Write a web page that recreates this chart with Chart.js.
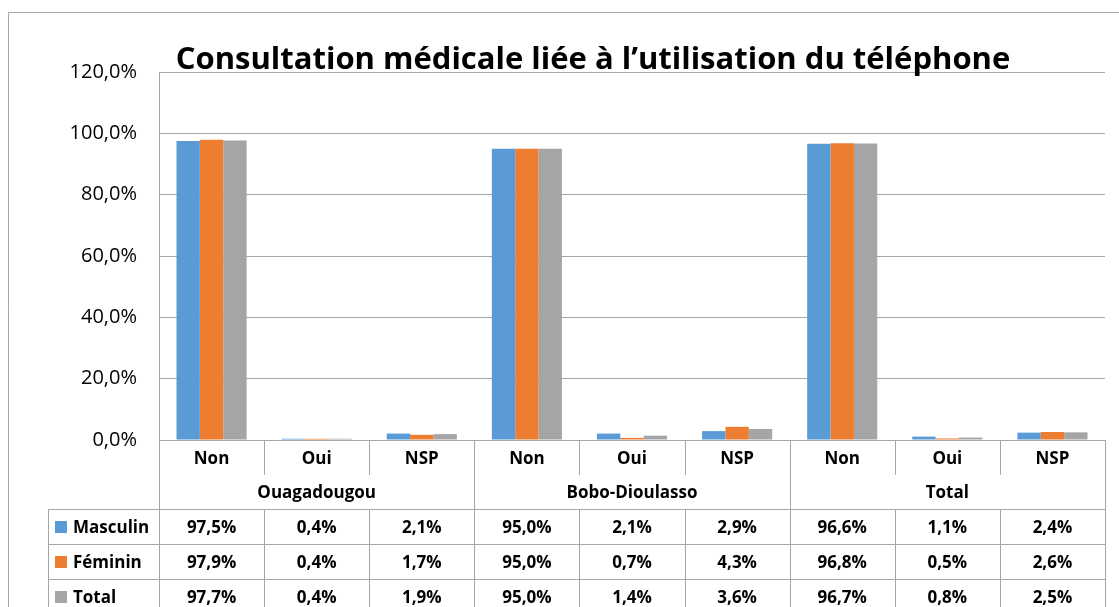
<!DOCTYPE html>
<html>
<head>
<meta charset="utf-8">
<script src="https://cdn.jsdelivr.net/npm/chart.js@4.4.1/dist/chart.umd.min.js"></script>
<style>
  html, body { margin: 0; padding: 0; background: #fff; }
  #wrap { width: 1119px; height: 607px; position: relative; }
</style>
</head>
<body>
<div id="wrap"><canvas id="chart" width="1119" height="607"></canvas></div>
<script>
const title = 'Consultation médicale liée à l’utilisation du téléphone';
const groups = ['Ouagadougou', 'Bobo-Dioulasso', 'Total'];
const categories = ['Non', 'Oui', 'NSP', 'Non', 'Oui', 'NSP', 'Non', 'Oui', 'NSP'];
const masculin = [97.5, 0.4, 2.1, 95.0, 2.1, 2.9, 96.6, 1.1, 2.4];
const feminin = [97.9, 0.4, 1.7, 95.0, 0.7, 4.3, 96.8, 0.5, 2.6];
const total = [97.7, 0.4, 1.9, 95.0, 1.4, 3.6, 96.7, 0.8, 2.5];
const seriesNames = ['Masculin', 'Féminin', 'Total'];
const colors = ['#5b9bd5', '#ed7d31', '#a5a5a5'];

const FONT = '"Open Sans", Lato, sans-serif';
const LINE = '#a6a6a6';

function fmt(v) {
    return v.toFixed(1).replace('.', ',') + '%';
}

// draws outer frame, title and the data table under the plot
const tablePlugin = {
    id: 'dataTable',
    afterDraw(chart) {
        const ctx = chart.ctx;
        const x = chart.scales.x;
        const area = chart.chartArea;
        const rowH = 35;
        const n = categories.length;
        const step = (area.right - area.left) / n;
        const edges = [];
        for (let i = 0; i <= n; i++) edges.push(area.left + step * i);
        const y0 = area.bottom;
        const yGroup = y0 + rowH;
        const yData = y0 + 2 * rowH - 1;
        const legLeft = 48;

        ctx.save();
        // outer frame
        ctx.strokeStyle = LINE;
        ctx.lineWidth = 1;
        ctx.beginPath();
        ctx.moveTo(8.5, chart.height);
        ctx.lineTo(8.5, 12.5);
        ctx.lineTo(chart.width, 12.5);
        ctx.stroke();

        // title, sized to the width it has in the original
        ctx.fillStyle = '#000';
        ctx.font = 'bold 30px ' + FONT;
        const tw = ctx.measureText(title).width;
        const size = Math.min(32, 30 * 834 / tw);
        ctx.font = 'bold ' + size.toFixed(1) + 'px ' + FONT;
        ctx.textAlign = 'center';
        ctx.textBaseline = 'alphabetic';
        ctx.fillText(title, 593, 69);

        // table lines
        ctx.strokeStyle = LINE;
        ctx.beginPath();
        ctx.moveTo(edges[0], y0 + 0.5);
        ctx.lineTo(edges[n], y0 + 0.5);
        edges.forEach(e => {
            ctx.moveTo(Math.round(e) + 0.5, y0);
            ctx.lineTo(Math.round(e) + 0.5, yGroup);
        });
        [0, 3, 6, 9].forEach(i => {
            ctx.moveTo(Math.round(edges[i]) + 0.5, yGroup);
            ctx.lineTo(Math.round(edges[i]) + 0.5, yData);
        });
        for (let r = 0; r <= 3; r++) {
            const yy = Math.round(yData + r * rowH) + 0.5;
            ctx.moveTo(legLeft, yy);
            ctx.lineTo(edges[n], yy);
        }
        [legLeft].concat(edges).forEach(e => {
            ctx.moveTo(Math.round(e) + 0.5, yData);
            ctx.lineTo(Math.round(e) + 0.5, yData + 3 * rowH);
        });
        ctx.stroke();

        // text
        ctx.fillStyle = '#000';
        ctx.font = 'bold 17px ' + FONT;
        ctx.textAlign = 'center';
        ctx.textBaseline = 'middle';
        categories.forEach((c, i) => {
            ctx.fillText(c, x.getPixelForValue(i), y0 + rowH / 2 + 1.5);
        });
        groups.forEach((g, i) => {
            const cx = (edges[i * 3] + edges[i * 3 + 3]) / 2;
            ctx.fillText(g, cx, yGroup + rowH / 2 + 0.5);
        });
        const rows = [masculin, feminin, total];
        rows.forEach((vals, r) => {
            const cy = yData + r * rowH + rowH / 2 + 1.5;
            vals.forEach((v, i) => {
                ctx.fillText(fmt(v), x.getPixelForValue(i), cy);
            });
            ctx.fillStyle = colors[r];
            ctx.fillRect(55, cy - 7, 12, 12);
            ctx.fillStyle = '#000';
            ctx.textAlign = 'left';
            ctx.fillText(seriesNames[r], 73, cy);
            ctx.textAlign = 'center';
        });
        ctx.restore();
    }
};

new Chart(document.getElementById('chart'), {
    type: 'bar',
    data: {
        labels: categories,
        datasets: [
            { label: seriesNames[0], data: masculin, backgroundColor: colors[0] },
            { label: seriesNames[1], data: feminin, backgroundColor: colors[1] },
            { label: seriesNames[2], data: total, backgroundColor: colors[2] }
        ]
    },
    options: {
        responsive: false,
        animation: false,
        layout: {
            padding: { left: 0, top: 72, right: 14, bottom: 167 }
        },
        datasets: {
            bar: {
                categoryPercentage: 0.667,
                barPercentage: 1.0,
                borderWidth: 0
            }
        },
        scales: {
            x: {
                display: false
            },
            y: {
                min: 0,
                max: 120,
                afterFit(scale) { scale.width = 159; },
                ticks: {
                    stepSize: 20,
                    padding: 22,
                    color: '#000',
                    font: { family: FONT, size: 20 },
                    callback: v => fmt(v)
                },
                grid: {
                    color: LINE,
                    drawTicks: false
                },
                border: { color: LINE }
            }
        },
        plugins: {
            legend: { display: false },
            title: { display: false },
            tooltip: { enabled: false }
        }
    },
    plugins: [tablePlugin]
});
</script>
</body>
</html>
